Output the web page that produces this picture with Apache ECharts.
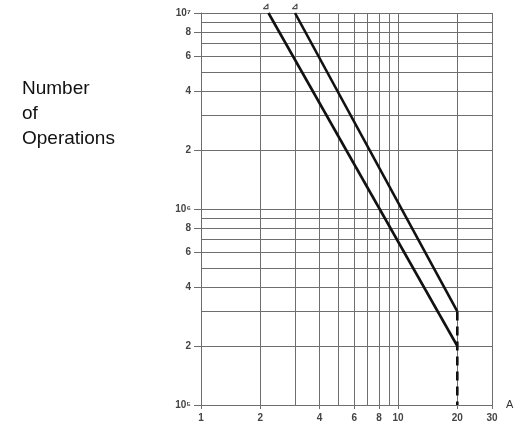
<!DOCTYPE html>
<html>
<head>
<meta charset="utf-8">
<script src="https://cdn.jsdelivr.net/npm/echarts@6/dist/echarts.min.js"></script>
<style>
html, body { margin: 0; padding: 0; background: #fff; }
#chart { width: 523px; height: 430px; }
</style>
</head>
<body>
<div id="chart"></div>
<script>
// grid lines (log-log paper)
const xGrid = [1, 2, 3, 4, 5, 6, 7, 8, 9, 10, 20, 30]
const xLabels = [1, 2, 4, 6, 8, 10, 20, 30]
const yGrid = [1e5, 2e5, 3e5, 4e5, 5e5, 6e5, 7e5, 8e5, 9e5,
               1e6, 2e6, 3e6, 4e6, 5e6, 6e6, 7e6, 8e6, 9e6, 1e7]
const yLabels = [1e5, 2e5, 4e5, 6e5, 8e5, 1e6, 2e6, 4e6, 6e6, 8e6, 1e7]

// curves: current (A) vs number of operations
const lowerCurveX = [2.2, 20]
const lowerCurveY = [1e7, 2e5]
const upperCurveX = [3, 20]
const upperCurveY = [1e7, 3e5]
const limitX = [20, 20]
const limitY = [3e5, 1e5]
// small marks printed above the top end of each curve
const markX = [2.15, 3]
const markY = [1e7, 1e7]
const curveMark = '⊿'

const sup = { '4': '⁴', '5': '⁵', '6': '⁶', '7': '⁷' }

function yLabel (v) {
    const e = Math.log10(v)
    const r = Math.round(e)
    if (Math.abs(e - r) < 1e-6) return '10' + sup[String(r)]
    return String(Math.round(v / Math.pow(10, Math.floor(e + 1e-9))))
}

function toPoints (xs, ys) {
    return xs.map((x, i) => [x, ys[i]])
}

const gridColor = '#6e6e6e'
const labelStyle = { fontSize: 10, fontWeight: 'bold', color: '#444', fontFamily: 'Liberation Sans' }

const myChart = echarts.init(document.getElementById('chart'))
const option = {
    animation: false,
    title: {
        text: 'Number\nof\nOperations',
        left: 22,
        top: 76,
        padding: 0,
        textStyle: {
            fontSize: 19, fontWeight: 'normal', color: '#111',
            lineHeight: 25, fontFamily: 'Liberation Sans'
        }
    },
    grid: { left: 201, right: 31, top: 13, bottom: 25 },
    xAxis: {
        type: 'log',
        logBase: 10,
        min: 1,
        max: 30,
        name: 'A',
        nameLocation: 'end',
        nameGap: 14,
        nameTextStyle: { fontSize: 11, color: '#333', fontFamily: 'Liberation Sans' },
        axisLine: { show: true, lineStyle: { color: gridColor, width: 1 } },
        axisTick: { show: true, customValues: xLabels, length: 4, lineStyle: { color: gridColor } },
        axisLabel: Object.assign({ customValues: xLabels, margin: 8 }, labelStyle),
        splitLine: { show: false },
        minorTick: { show: false },
        minorSplitLine: { show: false }
    },
    yAxis: {
        type: 'log',
        logBase: 10,
        min: 1e5,
        max: 1e7,
        axisLine: { show: true, lineStyle: { color: gridColor, width: 1 } },
        axisTick: { show: true, customValues: yLabels, length: 7, lineStyle: { color: gridColor } },
        axisLabel: Object.assign({ customValues: yLabels, margin: 10, formatter: yLabel }, labelStyle),
        splitLine: { show: false }
    },
    series: [
        {
            type: 'line',
            data: toPoints(lowerCurveX, lowerCurveY),
            symbol: 'none',
            lineStyle: { color: '#111', width: 2.6 },
            z: 5,
            markLine: {
                silent: true,
                symbol: 'none',
                label: { show: false },
                lineStyle: { color: gridColor, width: 1, type: 'solid' },
                data: xGrid.map(v => ({ xAxis: v })).concat(yGrid.map(v => ({ yAxis: v })))
            }
        },
        {
            type: 'line',
            data: toPoints(upperCurveX, upperCurveY),
            symbol: 'none',
            lineStyle: { color: '#111', width: 2.6 },
            z: 5
        },
        {
            type: 'line',
            data: toPoints(limitX, limitY),
            symbol: 'none',
            lineStyle: { color: '#111', width: 2.6, type: [9, 6] },
            z: 5
        },
        {
            type: 'scatter',
            data: toPoints(markX, markY),
            symbolSize: 0,
            clip: false,
            label: {
                show: true, formatter: curveMark, position: 'top', distance: 2,
                fontSize: 9, fontWeight: 'bold', color: '#222'
            },
            z: 6
        }
    ]
}
option && myChart.setOption(option)
</script>
</body>
</html>
